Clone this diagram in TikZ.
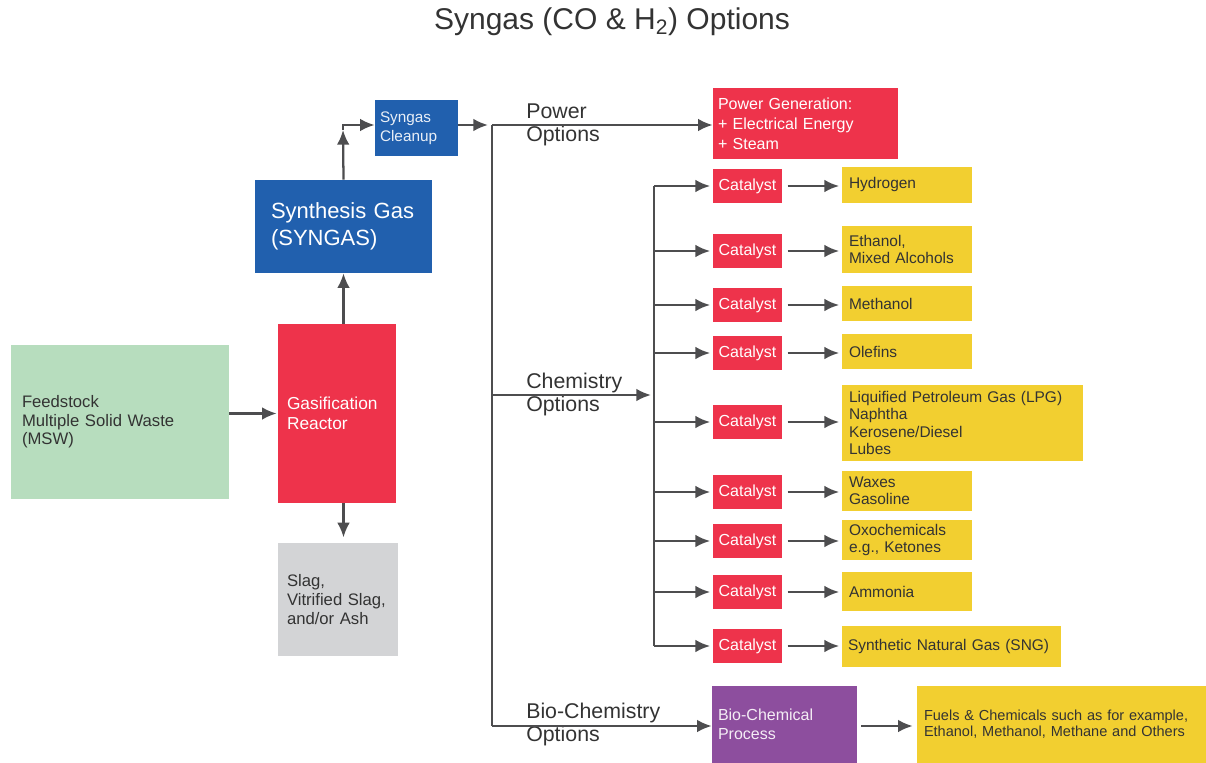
\documentclass[tikz,border=0pt]{standalone}
\usepackage{fontspec}
\setmainfont{Liberation Sans}
\usetikzlibrary{arrows.meta,calc}
\definecolor{cgreen}{HTML}{B7DDBE}
\definecolor{cred}{HTML}{EE334B}
\definecolor{cgray}{HTML}{D3D4D6}
\definecolor{cblue}{HTML}{2160AE}
\definecolor{cyellow}{HTML}{F2CF30}
\definecolor{cpurple}{HTML}{8D4E9E}
\definecolor{cline}{HTML}{4D4D4F}
\definecolor{ctext}{HTML}{333333}
\newcommand\bx[8]{%
  \pgfmathsetmacro\bw{(#4-#2)*0.75}%
  \pgfmathsetmacro\bh{(#5-#3)*0.75}%
  \pgfmathsetmacro\tw{(#4-#2-2*#6)*0.75}%
  \pgfmathsetmacro\px{#6*0.75}%
  \node[bxs,#7,minimum width=\bw pt,minimum height=\bh pt,text width=\tw pt,inner xsep=\px pt]
    (#1) at ({(#2+#4)/2},{(#3+#5)/2}) {#8};%
}
\begin{document}
\begin{tikzpicture}[x=0.75pt,y=-0.75pt,
  arr/.style={draw=cline,line width=1.7pt,-{Latex[length=11pt,width=9.5pt]}},
  ln/.style={draw=cline,line width=1.7pt},
  bxs/.style={inner ysep=0pt,align=left,anchor=center},
  green/.style={fill=cgreen,text=ctext,font=\fontsize{12.5}{14}\selectfont},
  redb/.style={fill=cred,text=white,font=\fontsize{13}{15}\selectfont},
  grayb/.style={fill=cgray,text=ctext,font=\fontsize{12.5}{14.2}\selectfont},
  blueb/.style={fill=cblue,text=white,font=\fontsize{16.5}{20}\selectfont},
  blues/.style={fill=cblue,text=white!90!cblue,font=\fontsize{11.5}{14}\selectfont},
  powb/.style={fill=cred,text=white,font=\fontsize{12}{15}\selectfont},
  catb/.style={fill=cred,text=white,align=center,font=\fontsize{12}{14}\selectfont},
  prod/.style={fill=cyellow,text=ctext,font=\fontsize{11.6}{12.8}\selectfont},
  purp/.style={fill=cpurple,text=white!90!cpurple,font=\fontsize{12}{14}\selectfont},
  fuel/.style={fill=cyellow,text=ctext,font=\fontsize{10.9}{12}\selectfont},
  optlbl/.style={anchor=west,align=left,inner sep=0pt,text=ctext,font=\fontsize{16}{17.25}\selectfont}]
\useasboundingbox (0,0) rectangle (1206,763);

\node[text=ctext,font=\fontsize{22.5}{26}\selectfont] (title) at (612,22) {Syngas (CO \& H\textsubscript{2}) Options};

% left chain
\bx{feed}{11}{345}{229}{499}{11}{green}{Feedstock\\Multiple Solid Waste\\(MSW)}
\bx{gasif}{278}{324}{396}{503}{9}{redb}{Gasification\\Reactor}
\bx{slag}{278}{543}{398}{656}{9}{grayb}{Slag,\\Vitrified Slag,\\and/or Ash}
\bx{syn}{255}{180}{432}{273}{16}{blueb}{Synthesis Gas\\(SYNGAS)}
\bx{clean}{375}{100}{458}{156}{5}{blues}{Syngas\\Cleanup}

% option labels
\node[optlbl] (lpow) at (526,125) {Power\\Options};
\node[optlbl] (lchem) at (526,394) {Chemistry\\Options};
\node[optlbl] (lbio) at (526,724) {Bio-Chemistry\\Options};

% power / bio boxes
\bx{power}{713}{88}{898}{159}{5}{powb}{Power Generation:\\+ Electrical Energy\\+ Steam}
\bx{bio}{712}{686}{857}{763}{6}{purp}{Bio-Chemical\\Process}
\bx{fuels}{917}{686}{1206}{763}{7}{fuel}{Fuels \& Chemicals such as for example,\\Ethanol, Methanol, Methane and Others}

% catalysts
\bx{c1}{713}{169}{782}{203}{0}{catb}{Catalyst}
\bx{c2}{713}{234}{782}{268}{0}{catb}{Catalyst}
\bx{c3}{713}{288}{782}{322}{0}{catb}{Catalyst}
\bx{c4}{713}{336}{782}{370}{0}{catb}{Catalyst}
\bx{c5}{713}{405}{782}{439}{0}{catb}{Catalyst}
\bx{c6}{713}{475}{782}{509}{0}{catb}{Catalyst}
\bx{c7}{713}{524}{782}{558}{0}{catb}{Catalyst}
\bx{c8}{713}{575}{782}{609}{0}{catb}{Catalyst}
\bx{c9}{713}{629}{782}{663}{0}{catb}{Catalyst}

% products
\bx{p1}{842}{167}{972}{203}{7}{prod}{Hydrogen}
\bx{p2}{842}{226}{972}{273}{7}{prod}{Ethanol,\\Mixed Alcohols}
\bx{p3}{842}{286}{972}{321}{7}{prod}{Methanol}
\bx{p4}{842}{334}{972}{369}{7}{prod}{Olefins}
\bx{p5}{842}{385}{1083}{461}{7}{prod}{Liquified Petroleum Gas (LPG)\\Naphtha\\Kerosene/Diesel\\Lubes}
\bx{p6}{842}{471}{972}{511}{7}{prod}{Waxes\\Gasoline}
\bx{p7}{842}{520}{972}{560}{7}{prod}{Oxochemicals\\e.g., Ketones}
\bx{p8}{842}{572}{972}{611}{7}{prod}{Ammonia}
\bx{p9}{842}{626}{1061}{667}{6}{prod}{Synthetic Natural Gas (SNG)}

% coordinates
\coordinate (bend) at (343,125);
\coordinate (uptip) at (343,130);
\coordinate (busTop) at (492,125);
\coordinate (busBot) at (492,726);
\coordinate (cb) at (654,395);
\coordinate (chemIn) at (651,395);

% left connectors
\draw[arr] (feed.east |- gasif.west) -- ($(gasif.west)+(-1,0)$);
\draw[arr] (gasif.north -| syn.south) -- (syn.south);
\draw[arr,shorten >=4pt] (gasif.south -| syn.south) -- (slag.north -| syn.south);
\draw[arr] (syn.north) -- (uptip);
\draw[arr] (uptip) -- (bend) -- (bend -| clean.west);
\draw[arr,shorten >=3pt] (clean.east |- bend) -- (busTop);

% main bus
\draw[ln] (busTop) -- (busBot);
\draw[arr] (busTop) -- (busTop -| power.west);
\draw[arr] (busTop |- cb) -- (chemIn);
\draw[arr] (busBot) -- (busBot -| bio.west);
\draw[arr,shorten <=3pt,shorten >=3pt] (bio.east |- busBot) -- (busBot -| fuels.west);

% chemistry bus
\draw[ln] (c1.west -| cb) -- (c9.west -| cb);
\foreach \i in {1,...,9}{
  \draw[arr,shorten >=2pt] (c\i.west -| cb) -- (c\i.west);
  \draw[arr,shorten <=4pt,shorten >=2pt] (c\i.east) -- (c\i.east -| p\i.west);
}
\end{tikzpicture}
\end{document}
